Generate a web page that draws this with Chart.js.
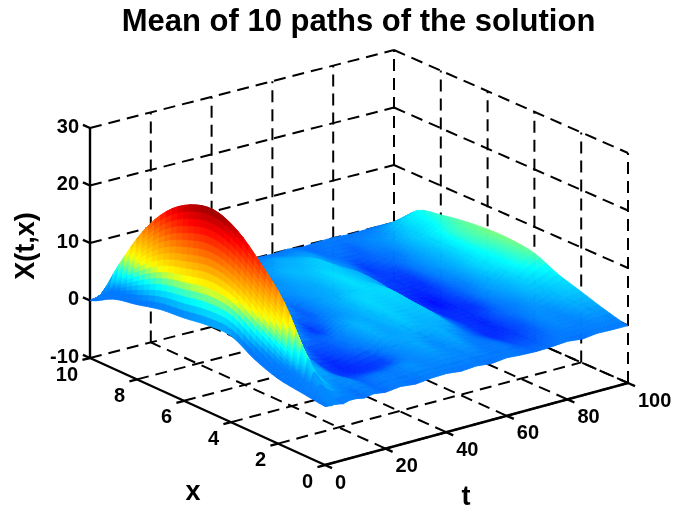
<!DOCTYPE html>
<html>
<head>
<meta charset="utf-8">
<title>Mean of 10 paths of the solution</title>
<script src="https://cdn.jsdelivr.net/npm/chart.js@4"></script>
<style>
    html, body { margin:0; padding:0; background:#fff; }
    canvas { display:block; }
</style>
</head>
<body>
<canvas id="chart" width="681" height="512"></canvas>
<script>
/* values */
const tValues = [0,1,2,3,4,6,8,10,13,16,20,25,30,35,40,45,50,55,60,65,70,75,80,85,90,95,100];
const xValues = [0,1,2,3,4,5,6,7,8,9,10];
const surfaceZ = [
    [0.2,0.1,0,0.1,0,-0.2,0.1,0.1,-0.2,0.1,-0.2,0.1,-0.2,0.1,0.2,-0.1,0.1,-0.2,0.1,-0.1,-0.2,-0.1,0.1,-0.2,0.1,0,0],
    [0.7,3.5,6.4,5.5,4.2,2.5,1.4,0.7,0.4,0.6,-0.3,0.1,0.1,0.7,0.4,0.8,0.5,0.7,0,0,-0.7,-0.6,-0.2,0.4,0.3,0.9,1.0],
    [1.3,7.5,14.3,11.5,8.5,4.6,2.7,1.7,1.4,0.1,-1.0,-1.3,-1.2,-0.9,0.7,1.5,0.7,1.6,0.5,-0.4,-1.3,-1.2,-0.6,0.6,0.7,2.0,2.3],
    [2.8,11,19.2,15.5,11.5,6.4,3.6,2.3,1.2,1.4,-0.7,-1.3,-0.7,0.1,1.6,1.2,2.2,1.7,2.0,-0.1,-1.1,-1.4,-0.4,0.1,1.8,2.5,3.6],
    [5.0,14,23.1,19,14,7.8,4.3,2.6,2.4,1.2,1.1,-0.5,-0.5,0.1,1.7,1.5,2.6,2.3,2.5,0.2,-1.3,-1.3,-1.2,0.8,1.9,4.2,5.4],
    [5.0,15,24.8,21,16,8.6,4.7,3.1,1.8,2.2,1.3,1.5,-0.1,-1.1,0.3,1.2,2.8,2.7,2.9,0.3,-1.2,-1.8,-0.8,0.2,2.9,4.3,6.0],
    [4.4,14,23.8,20,15,8.2,4.6,2.9,2.6,1.6,2.1,1.4,1.7,0.1,-0.5,1.1,1.7,3.1,2.4,1.3,-1.1,-1.3,-1.2,0.7,2.3,4.9,6.0],
    [4.0,12.5,20.8,17.5,13,7.2,4.0,2.8,1.8,2.2,1.5,2.1,1.5,1.5,0.1,1.0,1.5,2.9,2.4,1.6,-0.7,-1.0,-1.0,0.7,2.1,4.6,5.6],
    [3.0,9.5,15.5,13,9.8,5.5,3.1,2.0,2.0,1.3,1.9,1.3,2.0,1.2,1.3,0.6,1.9,1.9,2.6,1.0,0.1,-1.0,-0.3,0,2.2,3.3,4.9],
    [2.1,5.2,8.0,6.8,5.2,3.0,1.7,1.3,0.8,1.2,0.8,1.2,0.9,1.2,0.6,0.9,0.8,1.5,1.2,1.0,-0.1,-0.1,-0.4,0.5,1.0,2.8,3.9],
    [0,0.1,0,0.1,-0.1,0,0.1,-0.1,0,0.1,-0.1,0,0.1,-0.2,0,0.1,-0.1,0,-0.1,0.1,-0.2,0,0.1,-0.1,0,0.1,0]
];
// the far part of the surface is coloured a little higher than its height
const colorLift = [-2,0,0,0,1.5,2.5,2.5,2.5,2.5,2.5,2.5,2.5,2.5,2.5,2.5,2.5,2.5,2.5,2.5,2.5,2.5,2.5,2.5,2.5,2.5,2.5,2.5];
// the rim of the hump never gets darker than this
const colorFloor = [2.5,2.8,3,3,3,2.5,1.5,0.5,0.5,0.5,0.5,0.5,0.5,0.5,0.5,0.5,0.5,0.5,0.5,0.5,0.5,0.5,0.5,0.5,0.5,0.5,0.5];
const colorLevels = [-0.5,0.5,2.5,6.5,8.5,10.5,15.5,21,25.5];
const colorStops = [[0,0,190],[0,0,255],[0,120,255],[0,255,255],[120,255,130],[255,255,0],[255,140,0],[255,0,0],[130,0,0]];

const tTicks = [0,20,40,60,80,100];
const xTicks = [0,2,4,6,8,10];
const zTicks = [-10,0,10,20,30];
const titleText = 'Mean of 10 paths of the solution';

/* box corners on the page, floor level */
const floorF = [325,465], floorR = [628,383], floorL = [90,358], floorB = [394,280];
const zPx = 5.75;
const FONT = '"Liberation Sans", Arial, sans-serif';
const titleSize = 31, titleTop = 4;

function project(t, x, z) {
    const u = t/100, v = x/10;
    const a = (1-u)*(1-v), b = u*(1-v), c = (1-u)*v, d = u*v;
    return {
        x: a*floorF[0]+b*floorR[0]+c*floorL[0]+d*floorB[0],
        y: a*floorF[1]+b*floorR[1]+c*floorL[1]+d*floorB[1]-(z+10)*zPx
    };
}

function seg(p, q, solid) {
    return {
        data: [p, q], showLine: true, pointRadius: 0, fill: false,
        borderColor: '#000', borderWidth: solid ? 2.4 : 2,
        borderDash: solid ? [] : [12,7], borderCapStyle: 'butt'
    };
}

const datasets = [];
// back walls
zTicks.forEach(z => {
    datasets.push(seg(project(0,10,z), project(100,10,z)));
    datasets.push(seg(project(100,10,z), project(100,0,z)));
});
tTicks.slice(1).forEach(t => {
    datasets.push(seg(project(t,10,-10), project(t,10,30)));
    datasets.push(seg(project(t,0,-10), project(t,10,-10)));
});
xTicks.slice(0,-1).forEach(x => {
    datasets.push(seg(project(100,x,-10), project(100,x,30)));
    datasets.push(seg(project(0,x,-10), project(100,x,-10)));
});
// solid axes and tick marks
datasets.push(seg(project(0,10,-10), project(0,10,30), true));
datasets.push(seg(project(0,10,-10), project(0,0,-10), true));
datasets.push(seg(project(0,0,-10), project(100,0,-10), true));
zTicks.forEach(z => datasets.push(seg(project(0,10,z), project(0,10.3,z), true)));
xTicks.forEach(x => datasets.push(seg(project(0,x,-10), project(-2.5,x,-10), true)));
tTicks.forEach(t => datasets.push(seg(project(t,0,-10), project(t,-0.3,-10), true)));

function colorFor(c) {
    if (c <= colorLevels[0]) return colorStops[0];
    for (let i=1;i<colorLevels.length;i++) {
        if (c <= colorLevels[i]) {
            const f = (c-colorLevels[i-1])/(colorLevels[i]-colorLevels[i-1]);
            return colorStops[i-1].map((s,k)=>s+(colorStops[i][k]-s)*f);
        }
    }
    return colorStops[colorStops.length-1];
}

// smooth across x, straight across t, like interpolated shading
function heightAt(i, fx, j) {
    const r = k => surfaceZ[Math.max(0,Math.min(xValues.length-1,k))][j];
    const p0=r(i-1), p1=r(i), p2=r(i+1), p3=r(i+2);
    return p1+0.5*fx*(p2-p0+fx*(2*p0-5*p1+4*p2-p3+fx*(3*(p1-p2)+p3-p0)));
}

const surfacePlugin = {
    id: 'surface',
    afterDatasetsDraw(chart) {
        const ctx = chart.ctx, sx = chart.scales.x, sy = chart.scales.y;
        const subX = 4, subT = 8;
        const page = (t,x,z) => {
            const p = project(t,x,z);
            return [sx.getPixelForValue(p.x), sy.getPixelForValue(p.y)];
        };
        const sample = (i,a,j,b) => {
            const z0 = heightAt(i,a/subX,j);
            if (b === 0) return {z:z0, c:Math.max(z0+colorLift[j], colorFloor[j])};
            const z1 = heightAt(i,a/subX,j+1), f = b/subT;
            const z = z0+(z1-z0)*f;
            const lift = colorLift[j]+(colorLift[j+1]-colorLift[j])*f;
            const floor = colorFloor[j]+(colorFloor[j+1]-colorFloor[j])*f;
            return {z, c:Math.max(z+lift, floor)};
        };
        ctx.save();
        ctx.lineWidth = 0.8;
        ctx.lineJoin = 'round';
        // far corner first, so nearer cells paint over it
        for (let i=xValues.length-2;i>=0;i--) for (let a=subX-1;a>=0;a--) {
            const x0 = xValues[i]+(xValues[i+1]-xValues[i])*a/subX;
            const x1 = xValues[i]+(xValues[i+1]-xValues[i])*(a+1)/subX;
            const a1 = a+1===subX ? [i+1,0] : [i,a+1];
            for (let j=tValues.length-2;j>=0;j--) for (let b=subT-1;b>=0;b--) {
                const t0 = tValues[j]+(tValues[j+1]-tValues[j])*b/subT;
                const t1 = tValues[j]+(tValues[j+1]-tValues[j])*(b+1)/subT;
                const b1 = b+1===subT ? [j+1,0] : [j,b+1];
                const s00 = sample(i,a,j,b), s01 = sample(i,a,b1[0],b1[1]);
                const s10 = sample(a1[0],a1[1],j,b), s11 = sample(a1[0],a1[1],b1[0],b1[1]);
                const col = colorFor((s00.c+s01.c+s10.c+s11.c)/4).map(Math.round);
                const p1 = page(t0,x0,s00.z), p2 = page(t1,x0,s01.z), p3 = page(t1,x1,s11.z), p4 = page(t0,x1,s10.z);
                ctx.beginPath();
                ctx.moveTo(p1[0],p1[1]); ctx.lineTo(p2[0],p2[1]); ctx.lineTo(p3[0],p3[1]); ctx.lineTo(p4[0],p4[1]);
                ctx.closePath();
                ctx.fillStyle = ctx.strokeStyle = 'rgb('+col.join(',')+')';
                ctx.fill();
                ctx.stroke();
            }
        }
        ctx.restore();

        // tick and axis labels
        const at = (p) => [sx.getPixelForValue(p.x), sy.getPixelForValue(p.y)];
        ctx.save();
        ctx.fillStyle = '#000';
        ctx.textBaseline = 'middle';
        ctx.font = 'bold 20px '+FONT;
        ctx.textAlign = 'right';
        zTicks.forEach(z => { const p = at(project(0,10,z)); ctx.fillText(String(z), p[0]-11, p[1]-1); });
        xTicks.forEach(x => { const p = at(project(0,x,-10)); ctx.fillText(String(x), p[0]-12, p[1]+17); });
        ctx.textAlign = 'left';
        tTicks.forEach(t => { const p = at(project(t,0,-10)); ctx.fillText(String(t), p[0]+10, p[1]+18); });
        ctx.font = 'bold 27px '+FONT;
        ctx.textAlign = 'center';
        ctx.fillText('x', 193, 493);
        ctx.fillText('t', 466, 498);
        ctx.translate(27,246);
        ctx.rotate(-Math.PI/2);
        ctx.fillText('X(t,x)', 0, 0);
        ctx.restore();
    }
};

const titleLeft = 36;
new Chart(document.getElementById('chart'), {
    type: 'scatter',
    data: { datasets },
    plugins: [surfacePlugin],
    options: {
        responsive: false,
        animation: false,
        layout: { padding: { left: titleLeft, right: 0, top: 0, bottom: 0 } },
        plugins: {
            legend: { display: false },
            tooltip: { enabled: false },
            title: {
                display: true, text: titleText, color: '#000', fullSize: false,
                font: { family: FONT, size: titleSize, weight: 'bold', lineHeight: 1.2 },
                padding: { top: titleTop, bottom: 0 }
            }
        },
        scales: {
            x: { type: 'linear', display: false, min: titleLeft, max: 681 },
            y: { type: 'linear', display: false, min: titleTop+titleSize*1.2, max: 512, reverse: true }
        }
    }
});
</script>
</body>
</html>
